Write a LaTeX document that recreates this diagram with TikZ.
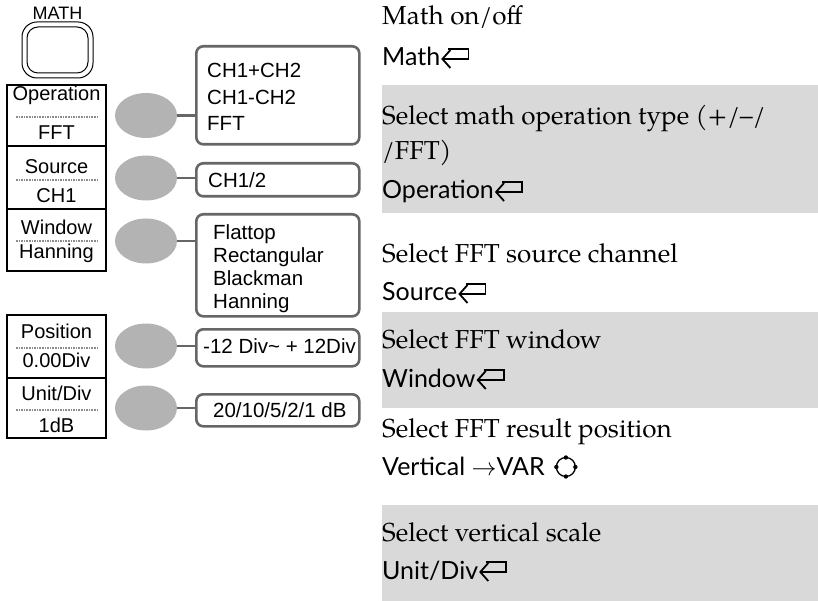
\documentclass[tikz,border=0pt]{standalone}
\usepackage{fontspec}
\setmainfont{TeX Gyre Pagella}
\newfontfamily\keyfont{Lato}
\newfontfamily\boxfont{Liberation Sans}
\usetikzlibrary{arrows.meta,positioning,calc,shapes.geometric}

\definecolor{bandgray}{HTML}{D9D9D9}
\definecolor{knobgray}{HTML}{B3B3B3}
\definecolor{optgray}{HTML}{666666}

\tikzset{
  retkey/.pic={
    \draw[line width=1.8pt,line join=miter] (6,-17) -- (26,-17) -- (26,-7) -- (0,-7);
    \draw[line width=1.8pt,line join=miter] (8,-16) -- (0,-7) -- (8,2);
  },
  varknob/.pic={
    \draw[line width=1.3pt] (0,0) circle (9.5);
    \foreach \a in {0,90,180,270} \fill (\a:9.5) circle (2.2);
  }
}

\begin{document}
\begin{tikzpicture}[x=1pt,y=-1pt,
  menubox/.style={draw=black,line width=1.2pt,fill=white},
  sep/.style={draw=black!45,line width=1.6pt,dash pattern=on 1.6pt off 1pt},
  mtxt/.style={anchor=base,inner sep=0pt,font=\boxfont\fontsize{20}{24}\selectfont},
  knob/.style={ellipse,fill=knobgray,draw=none,minimum width=62pt,minimum height=45pt,inner sep=0pt},
  opt/.style={draw=optgray,line width=2.6pt,rounded corners=7pt,minimum width=163pt,anchor=north west,inner sep=0pt},
  otxt/.style={anchor=base west,inner sep=0pt,font=\boxfont\fontsize{20.5}{24}\selectfont},
  link/.style={draw=optgray,line width=2.4pt},
  band/.style={fill=bandgray},
  desc/.style={anchor=base west,inner sep=0pt,font=\fontsize{26}{30}\selectfont},
  key/.style={anchor=base west,inner sep=0pt,font=\keyfont\fontsize{25}{29}\selectfont}
]
\useasboundingbox (0,0) rectangle (818,601);

% ---- front panel: MATH key and soft menu ----
\node[mtxt,font=\boxfont\fontsize{18}{20}\selectfont] (mathlbl) at (57.5,20) {MATH};
\draw[line width=1pt,rounded corners=15pt] (22,22) rectangle (93,78);
\draw[line width=1pt,rounded corners=11pt] (27,27) rectangle (88,73);

\draw[menubox] (7,85) rectangle (106,146);
\draw[menubox] (7,146) rectangle (106,209);
\draw[menubox] (7,209) rectangle (106,271);
\draw[menubox] (7,315) rectangle (106,378);
\draw[menubox] (7,378) rectangle (106,438);
\foreach \y in {117,180,241,348,410}
  \draw[sep] (16,\y) -- (99,\y);

\node[mtxt] (opl) at (56.5,101) {Operation};
\node[mtxt] (opv) at (56.5,140) {FFT};
\node[mtxt] (srl) at (56.5,174) {Source};
\node[mtxt] (srv) at (56.5,203) {CH1};
\node[mtxt] (wnl) at (56.5,235) {Window};
\node[mtxt] (wnv) at (56.5,259) {Hanning};
\node[mtxt] (psl) at (56.5,338) {Position};
\node[mtxt] (psv) at (56.5,367) {0.00Div};
\node[mtxt] (unl) at (56.5,400) {Unit/Div};
\node[mtxt] (unv) at (56.5,432) {1dB};

% ---- soft keys ----
\node[knob] (b1) at (146,115.5) {};
\node[knob] (b2) at (146,178) {};
\node[knob] (b3) at (146,241) {};
\node[knob] (b4) at (146,346) {};
\node[knob] (b5) at (146,408) {};

% ---- option boxes ----
\node[opt,minimum height=98pt]  (o1) at (195,45) {};
\node[opt,minimum height=33pt]  (o2) at (195,162) {};
\node[opt,minimum height=102pt] (o3) at (195,213) {};
\node[opt,minimum height=37pt]  (o4) at (195,328) {};
\node[opt,minimum height=32pt]  (o5) at (195,393) {};

\foreach \b/\o in {b1/o1,b2/o2,b3/o3,b4/o4,b5/o5}
  \draw[link] (\b.east) -- (\b.east -| \o.west);

\node[otxt] (o1a) at (207,78)  {CH1+CH2};
\node[otxt] (o1b) at (207,105) {CH1-CH2};
\node[otxt] (o1c) at (207,131) {FFT};
\node[otxt] (o2a) at (208,188) {CH1/2};
\node[otxt] (o3a) at (213,240) {Flattop};
\node[otxt] (o3b) at (213,263) {Rectangular};
\node[otxt] (o3c) at (213,285) {Blackman};
\node[otxt] (o3d) at (213,308) {Hanning};
\node[otxt] (o4a) at (203,353) {-12 Div\textasciitilde{} + 12Div};
\node[otxt] (o5a) at (213,417) {20/10/5/2/1 dB};

% ---- descriptions ----
\fill[band] (382,85) rectangle (818,213);
\fill[band] (382,312) rectangle (818,408);
\fill[band] (382,505) rectangle (818,601);

\node[desc] (d1) at (382,25)  {Math on/off};
\node[key]  (k1) at (382,66)  {Math};
\pic at ([xshift=2pt]k1.base east) {retkey};

\node[desc] (d2) at (382,125) {Select math operation type (+/--/};
\node[desc] (d2b) at (382,160) {/FFT)};
\node[key]  (k2) at (382,199) {Operation};
\pic at ([xshift=2pt]k2.base east) {retkey};

\node[desc] (d3) at (382,262) {Select FFT source channel};
\node[key]  (k3) at (382,301) {Source};
\pic at ([xshift=2pt]k3.base east) {retkey};

\node[desc] (d4) at (382,348) {Select FFT window};
\node[key]  (k4) at (382,387) {Window};
\pic at ([xshift=2pt]k4.base east) {retkey};

\node[desc] (d5) at (382,437) {Select FFT result position};
\node[key]  (k5) at (382,475) {Vertical $\rightarrow$VAR};
\pic at ($(k5.base east)+(21,-8)$) {varknob};

\node[desc] (d6) at (382,541) {Select vertical scale};
\node[key]  (k6) at (382,579) {Unit/Div};
\pic at ([xshift=2pt]k6.base east) {retkey};
\end{tikzpicture}
\end{document}
